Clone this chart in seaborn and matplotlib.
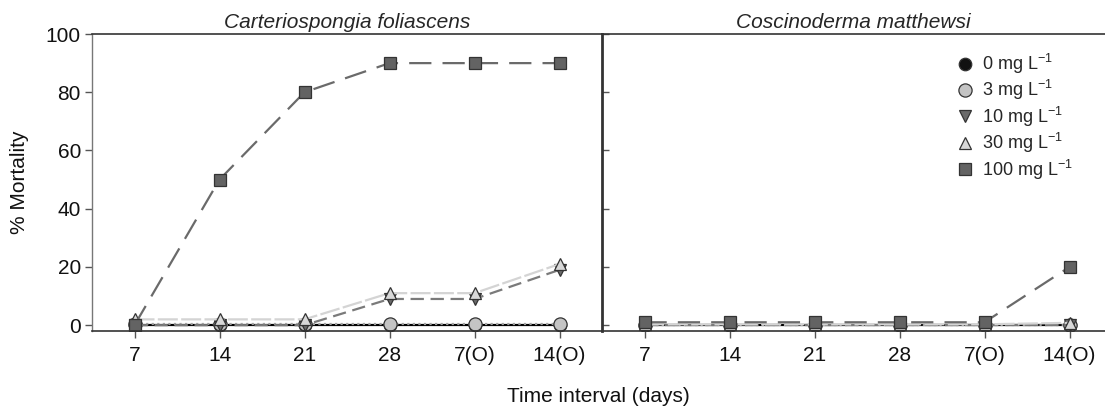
import numpy as np
import pandas as pd
import matplotlib
matplotlib.use("Agg")
import matplotlib.pyplot as plt
from matplotlib.lines import Line2D
import seaborn as sns

sns.set_theme(style="white")
plt.rcParams['font.family'] = ['Liberation Sans', 'DejaVu Sans']
plt.rcParams['mathtext.default'] = 'regular'

# ---- data ----
time_labels = ["7", "14", "21", "28", "7(O)", "14(O)"]
panels = ["Carteriospongia foliascens", "Coscinoderma matthewsi"]
conc_labels = ["0 mg L$^{-1}$", "3 mg L$^{-1}$", "10 mg L$^{-1}$", "30 mg L$^{-1}$", "100 mg L$^{-1}$"]

cf_0 = [0, 0, 0, 0, 0, 0]
cf_3 = [0.5, 0.5, 0.5, 0.5, 0.5, 0.5]
cf_10 = [0, 0, 0, 9, 9, 19]
cf_30 = [2, 2, 2, 11, 11, 21]
cf_100 = [0, 50, 80, 90, 90, 90]

cm_0 = [0, 0, 0, 0, 0, 0]
cm_3 = [0, 0, 0, 0, 0, 0]
cm_10 = [0, 0, 0, 0, 0, 0]
cm_30 = [0.3, 0.3, 0.3, 0.3, 0.3, 0.8]
cm_100 = [1, 1, 1, 1, 1, 20]

series = {
    panels[0]: [cf_0, cf_3, cf_10, cf_30, cf_100],
    panels[1]: [cm_0, cm_3, cm_10, cm_30, cm_100],
}

# ---- styles ----
styles = [
    dict(marker="o", mfc="#111111", dashes=None, lc="#000000", ms=9),
    dict(marker="o", mfc="#c4c4c4", dashes=(1, 1.5), lc="#a0a0a0", ms=9.5),
    dict(marker="v", mfc="#6a6a6a", dashes=(6, 3), lc="#7a7a7a", ms=9),
    dict(marker="^", mfc="#d8d8d8", dashes=(9, 1.5), lc="#d4d4d4", ms=9),
    dict(marker="s", mfc="#636363", dashes=(10, 5), lc="#6a6a6a", ms=8.5),
]

W, H = 1105, 407
fig = plt.figure(figsize=(W / 100, H / 100), dpi=100)
left, mid, right = 92, 602, 1105
top, bottom = 34, 331
ax1 = fig.add_axes([left / W, (H - bottom) / H, (mid - left) / W, (bottom - top) / H])
ax2 = fig.add_axes([mid / W, (H - bottom) / H, (right - mid) / W, (bottom - top) / H])

x = np.arange(len(time_labels))
step_px = (mid - left) / 6.0

for ax, name in zip([ax1, ax2], panels):
    for vals, st in zip(series[name], styles):
        df = pd.DataFrame({"t": x, "m": vals})
        kw = dict(color=st["lc"], linewidth=1.6, marker=st["marker"],
                  markersize=st["ms"], markerfacecolor=st["mfc"],
                  markeredgecolor="#333333", markeredgewidth=0.9)
        sns.lineplot(data=df, x="t", y="m", ax=ax, legend=False, **kw)
        ln = ax.lines[-1]
        if st["dashes"] is not None:
            ln.set_dashes(st["dashes"])
    ax.set_ylim(-2, 100)
    ax.set_xticks(x)
    ax.set_xticklabels(time_labels, fontsize=15)
    ax.set_xlabel("")
    ax.set_ylabel("")
    ax.set_title(name, fontsize=15, style="italic", pad=4)
    for s in ax.spines.values():
        s.set_color("#333333")
        s.set_linewidth(1.2)
    ax.tick_params(axis="x", direction="out", length=5, width=1, color="#555555",
                   bottom=True, pad=6, labelcolor="#111111")

ax1.set_xlim(-0.5, 5.5)
ax2.set_xlim(-0.5, -0.5 + (right - mid) / step_px)
ax1.set_yticks([0, 20, 40, 60, 80, 100])
ax1.tick_params(axis="y", direction="out", length=5, width=1, color="#555555",
                left=True, labelsize=15, pad=3, labelcolor="#111111")
ax1.spines["left"].set_color("#777777")
ax1.spines["left"].set_linewidth(1.0)
ax2.set_yticks([0, 20, 40, 60, 80, 100])
ax2.tick_params(axis="y", direction="in", length=5, width=1, color="#555555",
                left=True, labelleft=False)
ax2.spines["right"].set_visible(False)
ax1.spines["right"].set_visible(False)
ax2.spines["left"].set_linewidth(2.0)

handles = [Line2D([], [], linestyle="none", marker=st["marker"], markersize=st["ms"],
                  markerfacecolor=st["mfc"], markeredgecolor="#333333", markeredgewidth=0.9)
           for st in styles]
ax2.legend(handles, conc_labels, loc="upper left", bbox_to_anchor=(0.672, 0.995),
           frameon=False, fontsize=13, labelspacing=0.13, handletextpad=0.4,
           handlelength=1.0)

fig.text(0.018, (H - (top + bottom) / 2) / H, "% Mortality", rotation=90,
         ha="center", va="center", fontsize=15, color="#111111")
fig.text(598 / W, (H - 397) / H, "Time interval (days)", ha="center", va="center",
         fontsize=15, color="#111111")

fig.savefig("out.png", dpi=100)
